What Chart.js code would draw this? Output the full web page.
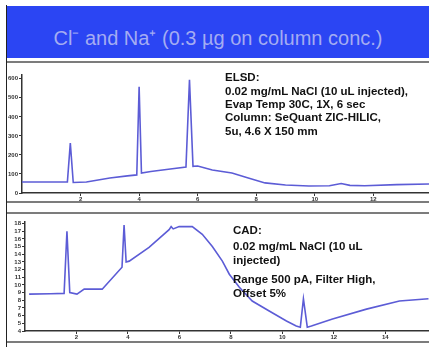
<!DOCTYPE html>
<html><head><meta charset="utf-8">
<script src="https://cdn.jsdelivr.net/npm/chart.js@4"></script>
<style>
html,body{margin:0;padding:0;background:#fff;width:429px;height:347px;overflow:hidden;font-family:"Liberation Sans",Arial,sans-serif}
#vline{position:absolute;left:6px;top:5px;width:1px;height:342px;background:#222}
#title{position:absolute;left:7px;top:6px;width:422px;height:52px;background:#2b45f3;color:#a4acf2;font-size:20px;text-align:center;line-height:64px;white-space:nowrap}
.hline{position:absolute;left:7px;width:422px;height:2px;background:#7c7c7c}
.note{position:absolute;font:bold 11.5px "Liberation Sans",Arial,sans-serif;color:#111;white-space:nowrap;line-height:13px}
#c1{position:absolute;left:7px;top:64px}
#c2{position:absolute;left:7px;top:214px}
</style></head>
<body>
<div id="vline"></div>
<div id="title">Cl⁻ and Na⁺ (0.3 µg on column conc.)</div>
<div class="hline" style="top:61px"></div>
<div class="hline" style="top:201px"></div>
<div class="hline" style="top:212px"></div>
<div class="hline" style="top:341px"></div>
<canvas id="c1" width="422" height="137"></canvas>
<canvas id="c2" width="422" height="127"></canvas>
<div class="note" style="left:225px;top:71px">ELSD:</div>
<div class="note" style="left:225px;top:85px">0.02 mg/mL NaCl (10 uL injected),</div>
<div class="note" style="left:225px;top:98px">Evap Temp 30C, 1X, 6 sec</div>
<div class="note" style="left:225px;top:111px">Column: SeQuant ZIC-HILIC,</div>
<div class="note" style="left:225px;top:125px">5u, 4.6 X 150 mm</div>
<div class="note" style="left:233px;top:224px">CAD:</div>
<div class="note" style="left:233px;top:240px">0.02 mg/mL NaCl (10 uL</div>
<div class="note" style="left:233px;top:254px">injected)</div>
<div class="note" style="left:233px;top:273px">Range 500 pA, Filter High,</div>
<div class="note" style="left:233px;top:287px">Offset 5%</div>
<script>
// ELSD trace (minutes, response)
const topTimes  = [0, 1.0, 1.55, 1.65, 1.75, 2.2, 3.0, 3.6, 3.92, 4.0, 4.08, 4.4, 5.0, 5.6, 5.72, 5.84, 6.0, 6.5, 7.17, 7.7, 8.3, 9.0, 9.8, 10.5, 10.9, 11.2, 11.7, 12.8, 13.9];
const topSignal = [58, 58, 58, 263, 55, 58, 79, 90, 95, 558, 105, 113, 125, 137, 595, 140, 142, 121, 105, 80, 53, 42, 37, 38, 50, 40, 38, 44, 47];
// CAD trace (minutes, response)
const botTimes  = [0.16, 1.0, 1.52, 1.63, 1.74, 2.02, 2.3, 3.0, 3.77, 3.85, 3.93, 4.05, 4.82, 5.6, 5.68, 5.76, 5.99, 6.5, 6.89, 7.28, 7.67, 7.94, 8.33, 8.83, 9.49, 10.16, 10.54, 10.7, 10.82, 10.97, 11.13, 11.95, 13.27, 14.55, 15.68];
const botSignal = [8.8, 8.85, 8.9, 17.0, 9.0, 8.8, 9.45, 9.45, 12.3, 17.8, 13.0, 13.1, 14.9, 17.2, 17.6, 17.3, 17.6, 17.6, 16.6, 15.0, 13.1, 11.4, 9.7, 7.9, 6.6, 5.3, 4.65, 4.5, 8.2, 4.5, 4.65, 5.55, 6.85, 7.9, 8.2];
// tick labels
const topXTicks = [2, 4, 6, 8, 10, 12];
const topYTicks = [0, 100, 200, 300, 400, 500, 600];
const botXTicks = [2, 4, 6, 8, 10, 12, 14];
const botYTicks = [4, 5, 6, 7, 8, 9, 10, 11, 12, 13, 14, 15, 16, 17, 18];

function pts(xs, ys){ return xs.map((x,i)=>({x:x, y:ys[i]})); }
const tickFont = {size:6, weight:'bold', family:'"Liberation Sans", Arial, sans-serif'};

function makeChart(id, xs, ys, xMax, yMin, yMax, xTicks, yTicks, yW, xH, padTop){
  return new Chart(document.getElementById(id), {
    type:'scatter',
    data:{datasets:[{data:pts(xs,ys), showLine:true, borderColor:'#5c5cd6', borderWidth:1.6, pointRadius:0, tension:0, fill:false}]},
    options:{
      responsive:false, animation:false,
      layout:{padding:{top:padTop, right:0, left:0, bottom:0}},
      plugins:{legend:{display:false}, tooltip:{enabled:false}, title:{display:false}},
      scales:{
        x:{type:'linear', min:0, max:xMax,
          afterBuildTicks:s=>{s.ticks = xTicks.map(v=>({value:v}));},
          afterFit:s=>{s.height = xH;},
          border:{display:true, color:'#333', width:1.5},
          grid:{display:true, drawOnChartArea:false, drawTicks:true, tickLength:3, color:'#333'},
          ticks:{font:tickFont, color:'#333', padding:0, maxRotation:0, autoSkip:false}
        },
        y:{type:'linear', min:yMin, max:yMax,
          afterBuildTicks:s=>{s.ticks = yTicks.map(v=>({value:v}));},
          afterFit:s=>{s.width = yW;},
          border:{display:true, color:'#333', width:1.5},
          grid:{display:true, drawOnChartArea:false, drawTicks:true, tickLength:3, color:'#333'},
          ticks:{font:tickFont, color:'#333', padding:1, autoSkip:false}
        }
      }
    }
  });
}
makeChart('c1', topTimes, topSignal, 13.9, 0, 620, topXTicks, topYTicks, 15, 8, 11);
makeChart('c2', botTimes, botSignal, 15.7, 4, 18.2, botXTicks, botYTicks, 18, 10, 8);
</script>
</body></html>
